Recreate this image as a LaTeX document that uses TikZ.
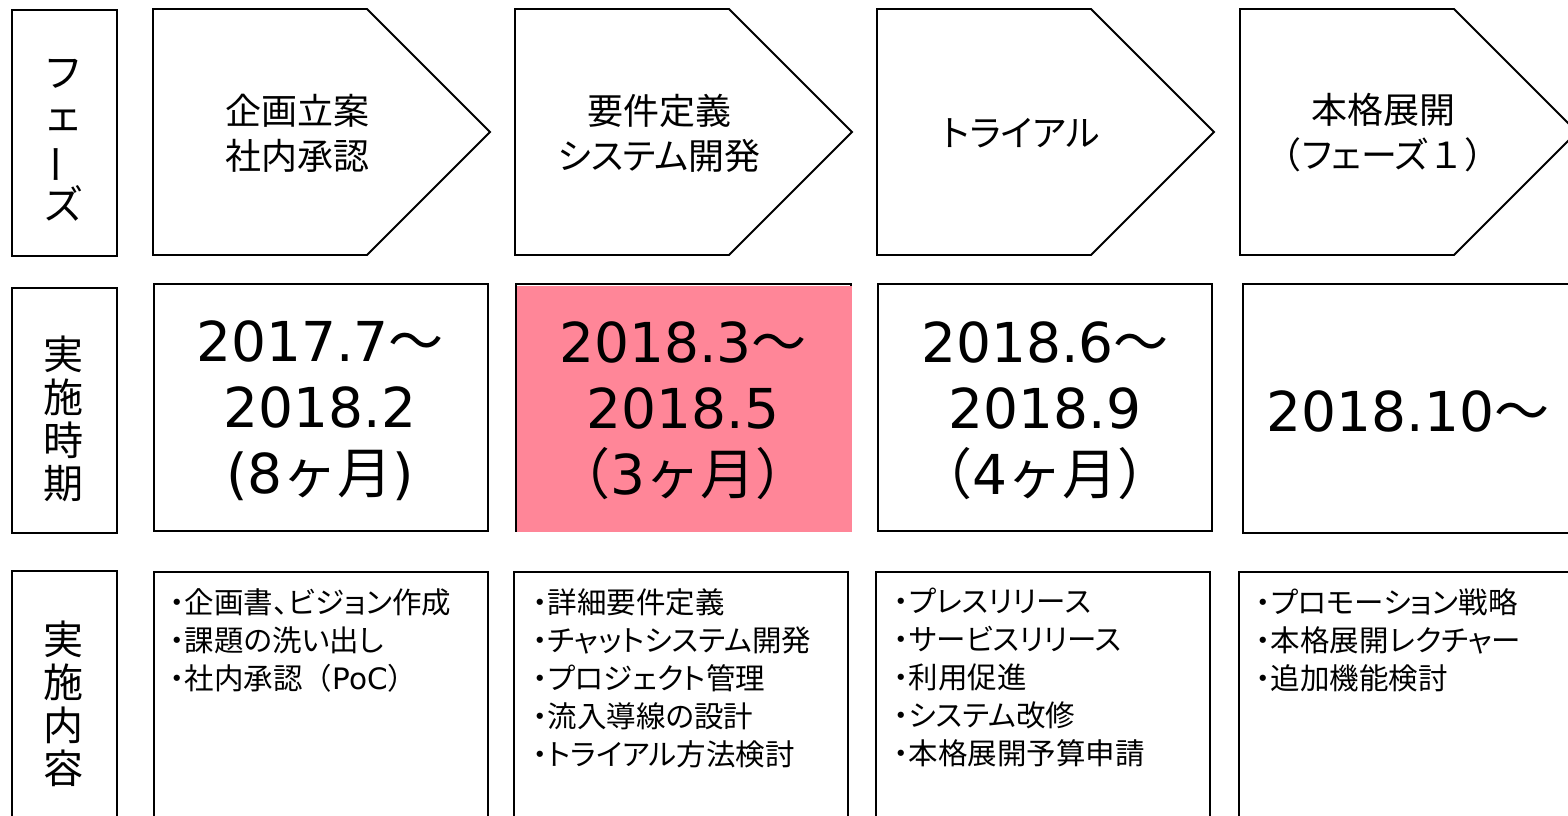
\documentclass[tikz,border=0pt]{standalone}
\usepackage{fontspec}
\usepackage{graphicx}
\setmainfont{DejaVu Sans}
\newfontfamily\jp{Noto Sans CJK JP}
\newfontfamily\jpp[RawFeature=+palt]{Noto Sans CJK JP}
\newfontfamily\dv{DejaVu Sans}
\definecolor{hl}{RGB}{255,134,152}
\begin{document}
\begin{tikzpicture}[x=1pt,y=-1pt,
  frame/.style={draw=black, line width=1.9pt, line join=miter},
  boxnode/.style={frame, rectangle, inner sep=0pt, anchor=north west},
  phasetxt/.style={font=\jpp\fontsize{36}{45}\selectfont, align=center, inner sep=0pt},
  labtxt/.style={font=\jp\fontsize{40}{43}\selectfont, align=center, inner sep=0pt},
  datetxt/.style={font=\dv\fontsize{55}{66}\selectfont, align=center, inner sep=0pt},
  itemtxt/.style={font=\jpp\fontsize{29.5}{38}\selectfont, align=left, inner sep=0pt, anchor=north west}]
\useasboundingbox (0,0) rectangle (1568,815);
\clip (0,0) rectangle (1568,815);
\fill[white] (0,0) rectangle (1568,815);

% ---- row labels
\node[boxnode, minimum width=105pt, minimum height=246pt] (labA) at (11,9) {};
\node[boxnode, minimum width=105pt, minimum height=245pt] (labB) at (11,287) {};
\node[boxnode, minimum width=105pt, minimum height=270pt] (labC) at (11,570) {};
\node[labtxt] (labAt) at (63,140) {フ\\ェ\\\rotatebox[origin=c]{90}{ー}\\ズ};
\node[labtxt] (labBt) at (63,419) {実\\施\\時\\期};
\node[labtxt] (labCt) at (63,704) {実\\施\\内\\容};

% ---- phase chevrons
\foreach \x/\n in {153/1,515/2,877/3,1240/4}{
  \draw[frame] (\x,9) -- ++(214,0) -- ++(123,123) -- ++(-123,123) -- ++(-214,0) -- cycle;
}
\node[phasetxt] (ph1) at (297,133) {企画立案\\社内承認};
\node[phasetxt] (ph2) at (659,133) {要件定義\\システム開発};
\node[phasetxt] (ph3) at (1021,133) {トライアル};
\node[phasetxt] (ph4) at (1383,133) {本格展開\\{\jp （}フェーズ{\jp １）}};

% ---- period boxes
\node[boxnode, minimum width=334pt, minimum height=247pt] (pd1) at (153,283) {};
\node[boxnode, minimum width=335pt, minimum height=247pt] (pd2) at (515,283) {};
\fill[hl] (517,286) rectangle (852,532);
\node[boxnode, minimum width=334pt, minimum height=247pt] (pd3) at (877,283) {};
\node[boxnode, minimum width=340pt, minimum height=249pt] (pd4) at (1242,283) {};
\node[datetxt] (pd1t) at (320,411) {2017.7{\jp ～}\\2018.2\\(8{\jp ヶ月})};
\node[datetxt] (pd2t) at (683,411) {2018.3{\jp ～}\\2018.5\\{\jp （}3{\jp ヶ月）}};
\node[datetxt] (pd3t) at (1045,411) {2018.6{\jp ～}\\2018.9\\{\jp （}4{\jp ヶ月）}};
\node[datetxt] (pd4t) at (1408,411) {2018.10{\jp ～}};

% ---- content boxes
\node[boxnode, minimum width=334pt, minimum height=270pt] (ct1) at (153,571) {};
\node[boxnode, minimum width=334pt, minimum height=270pt] (ct2) at (513,571) {};
\node[boxnode, minimum width=334pt, minimum height=270pt] (ct3) at (875,571) {};
\node[boxnode, minimum width=340pt, minimum height=270pt] (ct4) at (1238,571) {};
\node[itemtxt] (ct1t) at (170,588) {・企画書、ビジョン作成\\・課題の洗い出し\\・社内承認{\jp （}{\dv PoC}{\jp ）}};
\node[itemtxt] (ct2t) at (533,588) {・詳細要件定義\\・チャットシステム開発\\・プロジェクト管理\\・流入導線の設計\\・トライアル方法検討};
\node[itemtxt] (ct3t) at (894,588) {・プレスリリース\\・サービスリリース\\・利用促進\\・システム改修\\・本格展開予算申請};
\node[itemtxt] (ct4t) at (1256,588) {・プロモーション戦略\\・本格展開レクチャー\\・追加機能検討};
\end{tikzpicture}
\end{document}
